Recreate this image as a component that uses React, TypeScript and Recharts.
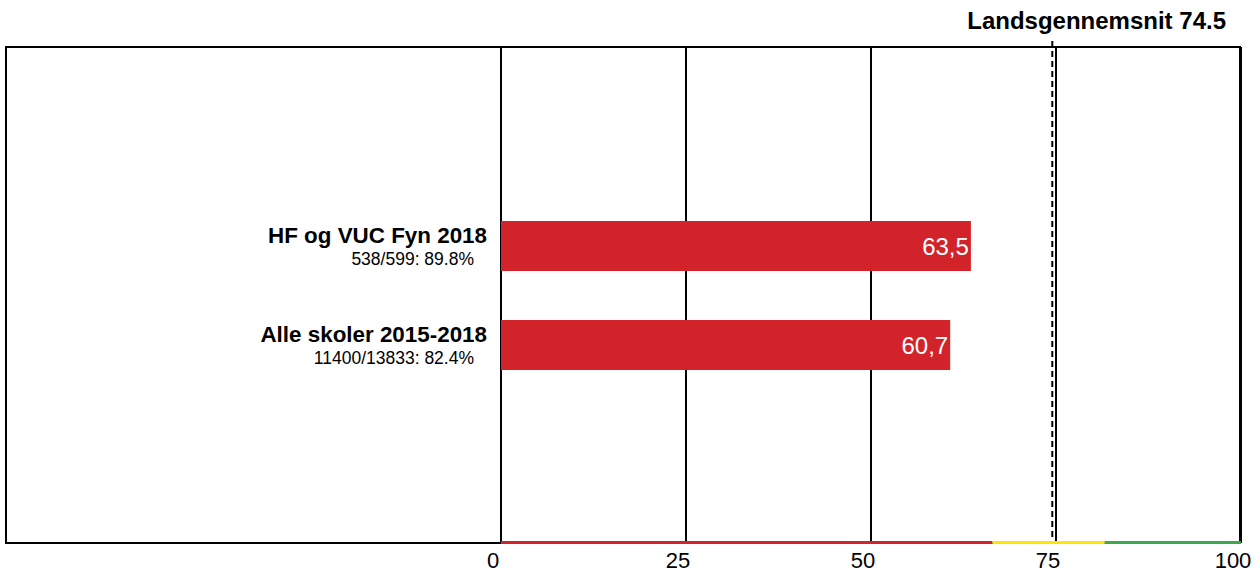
import React from 'react';
import {
  BarChart,
  Bar,
  XAxis,
  YAxis,
  CartesianGrid,
  ReferenceLine,
  ReferenceArea,
  LabelList,
} from 'recharts';

const categories = ['HF og VUC Fyn 2018', 'Alle skoler 2015-2018'];
const subLabels = ['538/599: 89.8%', '11400/13833: 82.4%'];
const values = [63.5, 60.7];
const xTicks = [0, 25, 50, 75, 100];
const nationalAverage = 74.5;
const titleText = 'Landsgennemsnit 74.5';
const bands = [
  { from: 0, to: 66.4, color: '#d3232a' },
  { from: 66.4, to: 81.6, color: '#ffe600' },
  { from: 81.6, to: 100, color: '#3ea84c' },
];

const data = categories.map((name, i) => ({ name, sub: subLabels[i], value: values[i] }));

const FONT = '"Liberation Sans", Arial, sans-serif';
const PAD = 149;

const YTick = (props: any) => {
  const { x, y, payload, index } = props;
  const sub = subLabels[index] ?? data.find((d) => d.name === payload.value)?.sub;
  return (
    <g>
      <text x={x - 14} y={y - 3} textAnchor="end" fontFamily={FONT} fontWeight="bold" fontSize={22.4} fill="#000">
        {payload.value}
      </text>
      <text x={x - 27} y={y + 19} textAnchor="end" fontFamily={FONT} fontSize={17.5} fill="#000">
        {sub}
      </text>
    </g>
  );
};

const XTick = (props: any) => {
  const { x, y, payload } = props;
  return (
    <text x={x - 8} y={y + 25} textAnchor="middle" fontFamily={FONT} fontSize={22} fill="#000">
      {payload.value}
    </text>
  );
};

export default function App() {
  return (
    <div style={{ position: 'absolute', left: 0, top: 0, width: 1253, height: 572, background: '#fff' }}>
      <div
        style={{
          position: 'absolute',
          left: 5,
          top: 46,
          width: 1236,
          height: 498,
          border: '2px solid #000',
          boxSizing: 'border-box',
        }}
      />
      <div style={{ position: 'absolute', left: 0, top: 0 }}>
        <BarChart
          width={1253}
          height={572}
          data={data}
          layout="vertical"
          margin={{ top: 47, right: 12, bottom: 0, left: 6 }}
        >
          <CartesianGrid vertical horizontal={false} stroke="#000" strokeWidth={2} />
          <XAxis
            type="number"
            domain={[0, 100]}
            ticks={xTicks}
            axisLine={false}
            tickLine={false}
            tickSize={0}
            tickMargin={0}
            height={29}
            tick={<XTick />}
            interval={0}
          />
          <YAxis
            type="category"
            dataKey="name"
            width={495}
            axisLine={false}
            tickLine={false}
            tickSize={0}
            tickMargin={0}
            padding={{ top: PAD, bottom: PAD }}
            tick={<YTick />}
            interval={0}
          />
          <Bar dataKey="value" fill="#d3232a" barSize={50} isAnimationActive={false}>
            <LabelList
              dataKey="value"
              position="insideRight"
              offset={2}
              fill="#fff"
              fontSize={24}
              fontFamily={FONT}
              formatter={(v: any) => String(v).replace('.', ',')}
            />
          </Bar>
          {bands.map((b) => (
            <ReferenceArea
              key={b.color}
              x1={b.from}
              x2={b.to}
              ifOverflow="visible"
              shape={(p: any) => (
                <rect x={p.x} y={p.y + p.height + PAD - 2} width={p.width} height={3} fill={b.color} />
              )}
            />
          ))}
          <ReferenceLine
            x={nationalAverage}
            ifOverflow="visible"
            shape={(p: any) => (
              <line
                x1={p.x1}
                x2={p.x2}
                y1={Math.min(p.y1, p.y2) - 6}
                y2={Math.max(p.y1, p.y2) - 4}
                stroke="#000"
                strokeWidth={2}
                strokeDasharray="6 4"
              />
            )}
          />
        </BarChart>
      </div>
      <svg width={1253} height={572} style={{ position: 'absolute', left: 0, top: 0, pointerEvents: 'none' }}>
        <text x={1226} y={29} textAnchor="end" fontFamily={FONT} fontWeight="bold" fontSize={24} fill="#000">
          {titleText}
        </text>
      </svg>
    </div>
  );
}
